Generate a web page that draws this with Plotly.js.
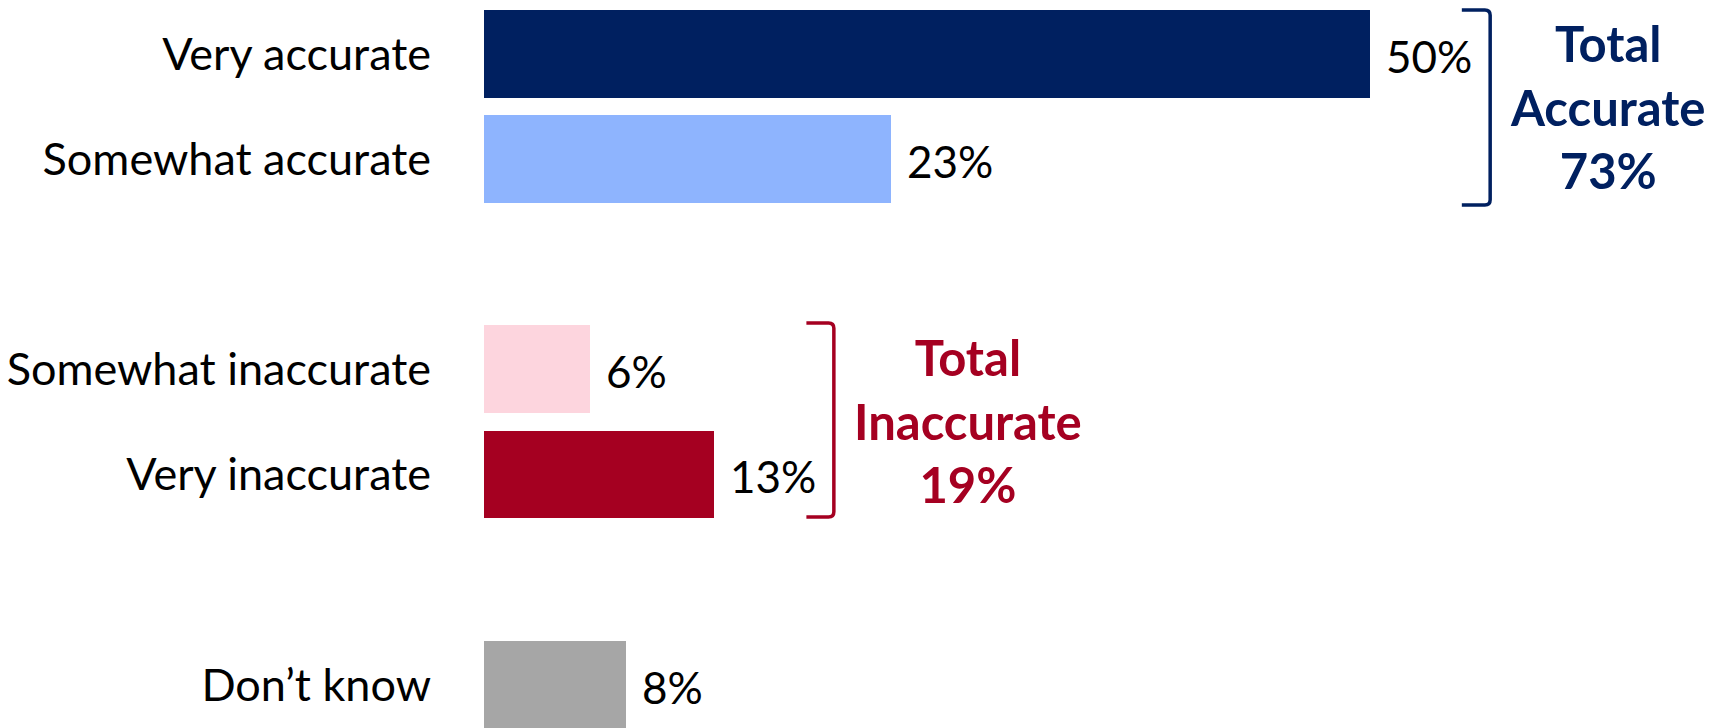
<!DOCTYPE html>
<html>
<head>
<meta charset="utf-8">
<script src="https://cdn.plot.ly/plotly-3.0.1.min.js"></script>
<style>
  html, body { margin: 0; padding: 0; background: #ffffff; }
  #chart { width: 1725px; height: 728px; }
</style>
</head>
<body>
<div id="chart"></div>
<script>
// ---- data ----
const categories = ['Very accurate', 'Somewhat accurate', '', 'Somewhat inaccurate', 'Very inaccurate', '', 'Don\u2019t know'];
const values = [50, 23, null, 6, 13, null, 8];
const barColors = ['#002060', '#8EB4FE', '#ffffff', '#FDD5DE', '#A50021', '#ffffff', '#A6A6A6'];
const valueLabels = ['50%', '23%', '', '6%', '13%', '', '8%'];
const groupNames = ['Total<br>Accurate<br>73%', 'Total<br>Inaccurate<br>19%'];
const groupColors = ['#002060', '#A50021'];

// ---- build ----
const slots = categories.map((c, i) => i);
const FONT = 'Lato, "Open Sans", sans-serif';

const trace = {
  type: 'bar',
  orientation: 'h',
  x: values,
  y: slots,
  width: 0.834,
  marker: { color: barColors, line: { width: 0 } },
  hoverinfo: 'skip',
  showlegend: false
};

const annotations = [];
values.forEach((v, i) => {
  if (v === null) return;
  annotations.push({
    x: v, y: slots[i], xref: 'x', yref: 'y',
    text: valueLabels[i], showarrow: false,
    xanchor: 'left', yanchor: 'middle', xshift: 14, yshift: -2,
    font: { family: FONT, size: 44, color: '#000000' }
  });
});

// group call-outs
annotations.push({
  x: 63.4, y: 0.515, xref: 'x', yref: 'y',
  text: groupNames[0], showarrow: false, xanchor: 'center', yanchor: 'middle',
  align: 'center', yshift: 1,
  font: { family: FONT, size: 49, color: groupColors[0], weight: 'bold' }
});
annotations.push({
  x: 27.3, y: 3.49, xref: 'x', yref: 'y',
  text: groupNames[1], showarrow: false, xanchor: 'center', yanchor: 'middle',
  align: 'center', yshift: 0,
  font: { family: FONT, size: 49, color: groupColors[1], weight: 'bold' }
});

function bracket(xArm, xV, yTop, yBot, color) {
  const dx = 0.3, dy = 0.05;
  return {
    type: 'path', xref: 'x', yref: 'y',
    path: `M ${xArm},${yTop} L ${xV - dx},${yTop} Q ${xV},${yTop} ${xV},${yTop + dy} ` +
          `L ${xV},${yBot - dy} Q ${xV},${yBot} ${xV - dx},${yBot} L ${xArm},${yBot}`,
    line: { color: color, width: 3.5 }
  };
}

const layout = {
  width: 1725, height: 728,
  margin: { l: 484, r: 1, t: 0, b: 0, pad: 0 },
  paper_bgcolor: '#ffffff', plot_bgcolor: '#ffffff',
  bargap: 0,
  xaxis: { range: [0, 70], visible: false, fixedrange: true },
  yaxis: {
    range: [6.411, -0.5116],
    tickmode: 'array', tickvals: slots, ticktext: categories,
    showgrid: false, zeroline: false, showline: false, ticks: '',
    ticklabelstandoff: 52,
    tickfont: { family: FONT, size: 45, color: '#000000' },
    fixedrange: true
  },
  annotations: annotations,
  shapes: [
    bracket(55.2, 56.8, -0.4165, 1.437, groupColors[0]),
    bracket(18.2, 19.75, 2.559, 4.404, groupColors[1])
  ]
};

Plotly.newPlot('chart', [trace], layout, { displayModeBar: false, staticPlot: true });
</script>
</body>
</html>
